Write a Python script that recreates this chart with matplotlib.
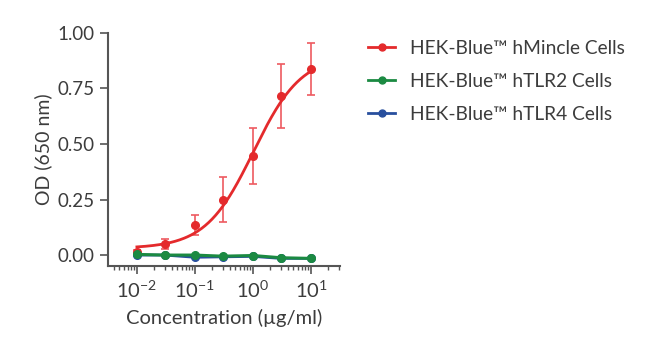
import numpy as np
import matplotlib.pyplot as plt
from matplotlib.ticker import LogLocator, FixedLocator

plt.rcParams["font.family"] = ["Lato", "DejaVu Sans"]
plt.rcParams["mathtext.default"] = "regular"

conc = [0.01, 0.03, 0.1, 0.3, 1, 3, 10]

mincle = [0.015, 0.05, 0.135, 0.25, 0.446, 0.717, 0.838]
mincle_err = [0.01, 0.024, 0.045, 0.10, 0.128, 0.144, 0.118]

tlr2 = [0.003, 0.0, 0.0, -0.005, -0.002, -0.012, -0.015]
tlr2_err = [0.004, 0.003, 0.003, 0.003, 0.003, 0.004, 0.003]

tlr4 = [0.0, 0.0, -0.01, -0.008, -0.006, -0.015, -0.015]
tlr4_err = [0.008, 0.003, 0.004, 0.004, 0.004, 0.008, 0.004]

# 4PL fit parameters for the hMincle curve
fit_bottom, fit_top, fit_ec50, fit_hill = 0.03, 0.90, 1.02, 1.05

labels = ["HEK-Blue\u2122 hMincle Cells", "HEK-Blue\u2122 hTLR2 Cells", "HEK-Blue\u2122 hTLR4 Cells"]

red = "#e42a2c"
green = "#1b8a42"
blue = "#284f9e"
grey = "#555555"
text_col = "#3c3c3c"

fig = plt.figure(figsize=(6.5, 3.43), dpi=100)
ax = fig.add_axes([0.166, 0.224, 0.357, 0.68])

xs = np.logspace(-2, 1, 200)
curve = fit_bottom + (fit_top - fit_bottom) / (1 + (fit_ec50 / xs) ** fit_hill)
ax.plot(xs, curve, color=red, lw=2, zorder=4)
ax.errorbar(conc, mincle, yerr=mincle_err, fmt="none", ecolor="#ee5a60", elinewidth=1.2, capsize=3, capthick=1.2, zorder=3)
ax.plot(conc, mincle, "o", color=red, ms=5.5, zorder=5)

ax.errorbar(conc, tlr4, yerr=tlr4_err, fmt="-o", color=blue, lw=2, ms=5.5, capsize=2.5, zorder=6)
ax.errorbar(conc, tlr2, yerr=tlr2_err, fmt="-o", color=green, lw=2.2, ms=5.5, capsize=2.5, zorder=7)

ax.set_xscale("log")
ax.set_xlim(10 ** -2.5, 10 ** 1.5)
ax.set_ylim(-0.05, 1.0)
ax.set_yticks([0, 0.25, 0.5, 0.75, 1.0])
ax.set_yticklabels(["0.00", "0.25", "0.50", "0.75", "1.00"])
ax.xaxis.set_major_locator(FixedLocator([0.01, 0.1, 1, 10]))
ax.set_xticklabels(["$10^{-2}$", "$10^{-1}$", "$10^{0}$", "$10^{1}$"], fontsize=14.5)
ax.xaxis.set_minor_locator(LogLocator(base=10, subs=np.arange(2, 10), numticks=20))

for s in ["top", "right"]:
    ax.spines[s].set_visible(False)
for s in ["left", "bottom"]:
    ax.spines[s].set_color(grey)
    ax.spines[s].set_linewidth(1.5)
ax.tick_params(axis="both", which="major", colors=grey, length=6, width=1.2, labelcolor=text_col)
ax.tick_params(axis="y", labelsize=13.5)
ax.tick_params(axis="x", which="minor", colors=grey, length=3, width=1)
ax.set_ylabel("OD (650 nm)", fontsize=14, color=text_col)
ax.set_xlabel("Concentration (\u00b5g/ml)", fontsize=14.5, color=text_col, labelpad=6)

handles = [
    plt.Line2D([], [], color=red, lw=2, marker="o", ms=5),
    plt.Line2D([], [], color=green, lw=2, marker="o", ms=5),
    plt.Line2D([], [], color=blue, lw=2, marker="o", ms=5),
]
fig.legend(handles, labels, loc="upper left", bbox_to_anchor=(0.54, 0.935), frameon=False,
           fontsize=13.8, handlelength=1.4, handletextpad=0.8, labelspacing=0.85, labelcolor=text_col)

fig.savefig("out.png", dpi=100)
